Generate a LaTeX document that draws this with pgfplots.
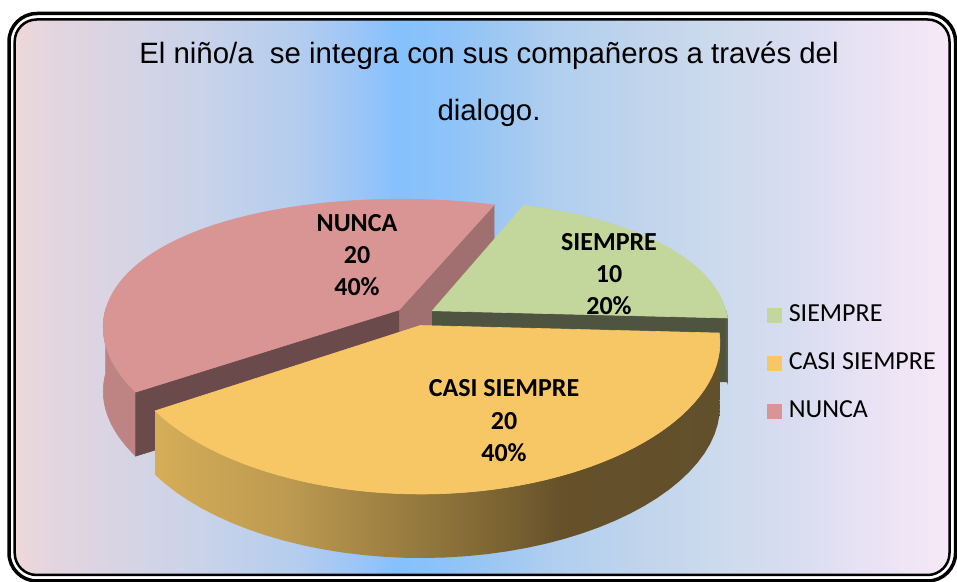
\documentclass[border=0pt]{standalone}
\usepackage{pgfplots}
\pgfplotsset{compat=1.18}
\usepackage{pgfplotstable}
\usepackage{fontspec}
\setmainfont{Liberation Sans}
\newfontfamily\calibri{Carlito}

\definecolor{cGreen}{HTML}{C3D69B}
\definecolor{cGreenDark}{HTML}{4F5440}
\definecolor{cGreenSide}{HTML}{5A5F45}
\definecolor{cYellow}{HTML}{F8C765}
\definecolor{cPink}{HTML}{D99594}
\definecolor{cPinkLight}{HTML}{A07070}
\definecolor{cPinkDark}{HTML}{6A4A4A}
\definecolor{cPinkSide}{HTML}{BE8484}

\definecolor{bg1}{HTML}{EED8DA}
\definecolor{bg2}{HTML}{E4D5DF}
\definecolor{bg3}{HTML}{CAD3E9}
\definecolor{bg4}{HTML}{B4CDEE}
\definecolor{bg5}{HTML}{9CC5F7}
\definecolor{bg6}{HTML}{84C1FD}
\definecolor{bg7}{HTML}{8DC3F9}
\definecolor{bg8}{HTML}{9DC7F2}
\definecolor{bg9}{HTML}{B0CFEF}
\definecolor{bg10}{HTML}{BFD4EC}
\definecolor{bg11}{HTML}{CCDAED}
\definecolor{bg12}{HTML}{D8DDF0}
\definecolor{bg13}{HTML}{E8E2F4}
\definecolor{bg14}{HTML}{F6E8F7}

\definecolor{ys1}{HTML}{D6AD57}
\definecolor{ys2}{HTML}{BC9A50}
\definecolor{ys3}{HTML}{9A7D40}
\definecolor{ys4}{HTML}{776030}
\definecolor{ys5}{HTML}{65502A}
\definecolor{ys6}{HTML}{62502C}

\pgfdeclarehorizontalshading{bgshade}{100bp}{color(0bp)=(bg1); color(25bp)=(bg1); color(26.86bp)=(bg2); color(34.82bp)=(bg3); color(40.13bp)=(bg4); color(43.31bp)=(bg5); color(45.44bp)=(bg6); color(48.09bp)=(bg7); color(50.74bp)=(bg8); color(53.93bp)=(bg9); color(58.17bp)=(bg10); color(62.42bp)=(bg11); color(66.67bp)=(bg12); color(70.38bp)=(bg13); color(75bp)=(bg14); color(100bp)=(bg14)}

\pgfdeclarehorizontalshading{yside}{100bp}{color(0bp)=(ys1); color(25bp)=(ys1); color(36.7bp)=(ys2); color(46.8bp)=(ys3); color(56.8bp)=(ys4); color(61bp)=(ys5); color(75bp)=(ys6); color(100bp)=(ys6)}

% top face of a slice: #1 start angle, #2 end angle, #3 ex, #4 ey, #5 colour
\newcommand\topface[5]{%
\addplot[fill=#5, draw=#5, line width=0.3bp, domain=-1:61, samples=63, variable=\t, forget plot]
({px((#3)+(abs(\t-30)<30.5)*cos((#1)+((#2)-(#1))*min(max(\t,0),60)/60), (#4)+(abs(\t-30)<30.5)*sin((#1)+((#2)-(#1))*min(max(\t,0),60)/60))},
 {py((#3)+(abs(\t-30)<30.5)*cos((#1)+((#2)-(#1))*min(max(\t,0),60)/60), (#4)+(abs(\t-30)<30.5)*sin((#1)+((#2)-(#1))*min(max(\t,0),60)/60))});
}
% outer curved side: #1 theta1, #2 theta2, #3 ex, #4 ey, #5 style
\newcommand\outerside[5]{%
\addplot[#5, domain=0:81, samples=82, variable=\t, forget plot]
({px((#3)+cos((#1)+((#2)-(#1))*((\t<40.5)*\t/40+(\t>40.5)*(81-\t)/40)), (#4)+sin((#1)+((#2)-(#1))*((\t<40.5)*\t/40+(\t>40.5)*(81-\t)/40)))},
 {py((#3)+cos((#1)+((#2)-(#1))*((\t<40.5)*\t/40+(\t>40.5)*(81-\t)/40)), (#4)+sin((#1)+((#2)-(#1))*((\t<40.5)*\t/40+(\t>40.5)*(81-\t)/40))) - 64*(\t>40.5)});
}
% radial cut face: #1 angle, #2 ex, #3 ey, #4 colour
\newcommand\radial[4]{%
\addplot[fill=#4, draw=#4, line width=0.3bp, samples at={0,1,2,3}, variable=\t, forget plot]
({px((#2)+(abs(\t-1.5)<1)*cos(#1), (#3)+(abs(\t-1.5)<1)*sin(#1))},
 {py((#2)+(abs(\t-1.5)<1)*cos(#1), (#3)+(abs(\t-1.5)<1)*sin(#1)) - 64*(\t>1.5)});
}

\pgfplotstableread[col sep=comma]{
cat,value
SIEMPRE,10
CASI SIEMPRE,20
NUNCA,20
}\piedata
\pgfplotstablegetelem{0}{value}\of\piedata \edef\vA{\pgfplotsretval}
\pgfplotstablegetelem{1}{value}\of\piedata \edef\vB{\pgfplotsretval}
\pgfplotstablegetelem{2}{value}\of\piedata \edef\vC{\pgfplotsretval}
\pgfmathsetmacro\tot{\vA+\vB+\vC}
\pgfmathsetmacro\aA{69}
\pgfmathsetmacro\bA{\aA-360*\vA/\tot}
\pgfmathsetmacro\aB{\bA}
\pgfmathsetmacro\bB{\aB-360*\vB/\tot}
\pgfmathsetmacro\aC{\bB}
\pgfmathsetmacro\bC{\aC-360*\vC/\tot}
\pgfmathsetmacro\exA{0.07*cos((\aA+\bA)/2)}
\pgfmathsetmacro\eyA{0.07*sin((\aA+\bA)/2)}
\pgfmathsetmacro\exB{0.07*cos((\aB+\bB)/2)}
\pgfmathsetmacro\eyB{0.07*sin((\aB+\bB)/2)}
\pgfmathsetmacro\exC{0.07*cos((\aC+\bC)/2)}
\pgfmathsetmacro\eyC{0.07*sin((\aC+\bC)/2)}

\begin{document}%
\begin{tikzpicture}
\useasboundingbox (0,0) rectangle (478.5bp,291bp);
\clip (0,0) rectangle (478.5bp,291bp);
\begin{axis}[
  at={(0,0)}, anchor=south west,
  scale only axis, width=478.5bp, height=291bp,
  xmin=0, xmax=957, ymin=0, ymax=582,
  hide axis, clip=false,
  declare function={
    px(\u,\v)=415+295*\u*(1-0.12*\v);
    py(\u,\v)=266+139*\v*(1-0.187*\v);
  },
  legend image code/.code={\fill[#1, draw=none] (0bp,-3.6bp) rectangle (7.2bp,3.6bp);},
  legend cell align=left,
  legend style={at={(axis cs:767,281)}, anchor=north west, draw=none, fill=none,
    inner sep=0pt, row sep=10bp,
    font=\calibri\fontsize{13bp}{15bp}\selectfont,
    nodes={inner sep=0pt, text height=10bp, text depth=4bp},
    /tikz/every odd column/.append style={column sep=3.5bp}},
]
% background
\fill[white] (axis cs:-5,-5) rectangle (axis cs:965,590);
\fill[shading=bgshade, rounded corners=11bp] (axis cs:14.7,7) rectangle (axis cs:949.5,562.5);

% NUNCA (back left)
\outerside{\aC}{-180}{\exC}{\eyC}{fill=cPinkSide, draw=cPinkSide, line width=0.3bp}
\radial{\bC}{\exC}{\eyC}{cPinkLight}
\radial{\aC}{\exC}{\eyC}{cPinkDark}
\topface{\aC}{\bC}{\exC}{\eyC}{cPink}
% SIEMPRE
\radial{\bA}{\exA}{\eyA}{cGreenDark}
\outerside{0}{\bA}{\exA}{\eyA}{fill=cGreenSide, draw=cGreenSide, line width=0.3bp}
\topface{\aA}{\bA}{\exA}{\eyA}{cGreen}
% CASI SIEMPRE
\outerside{\aB}{\bB}{\exB}{\eyB}{shading=yside, draw=none}
\topface{\aB}{\bB}{\exB}{\eyB}{cYellow}

\addlegendimage{fill=cGreen, draw=none}\addlegendentry{SIEMPRE}
\addlegendimage{fill=cYellow, draw=none}\addlegendentry{CASI SIEMPRE}
\addlegendimage{fill=cPink, draw=none}\addlegendentry{NUNCA}

% title
\node[font=\fontsize{14.7bp}{16bp}\selectfont, anchor=base] at (axis cs:489,518) {El niño/a\ \ se integra con sus compañeros a través del};
\node[font=\fontsize{14.7bp}{16bp}\selectfont, anchor=base] at (axis cs:489,461) {dialogo.};

% data labels
\begin{scope}[every node/.style={font=\calibri\bfseries\fontsize{13bp}{15bp}\selectfont, anchor=base}]
\node at (axis cs:357,350) {NUNCA};
\node at (axis cs:357,318) {20};
\node at (axis cs:357,286) {40\%};
\node at (axis cs:609,331) {SIEMPRE};
\node at (axis cs:609,299) {10};
\node at (axis cs:609,267) {20\%};
\node at (axis cs:504,185) {CASI SIEMPRE};
\node at (axis cs:504,152) {20};
\node at (axis cs:504,120) {40\%};
\end{scope}

% frame
\draw[black, line width=1.75bp, rounded corners=14bp] (axis cs:9,1) rectangle (axis cs:955.5,568.5);
\draw[black, line width=1.25bp, rounded corners=11bp] (axis cs:14.7,7) rectangle (axis cs:949.5,562.5);
\end{axis}
\end{tikzpicture}%
\end{document}
